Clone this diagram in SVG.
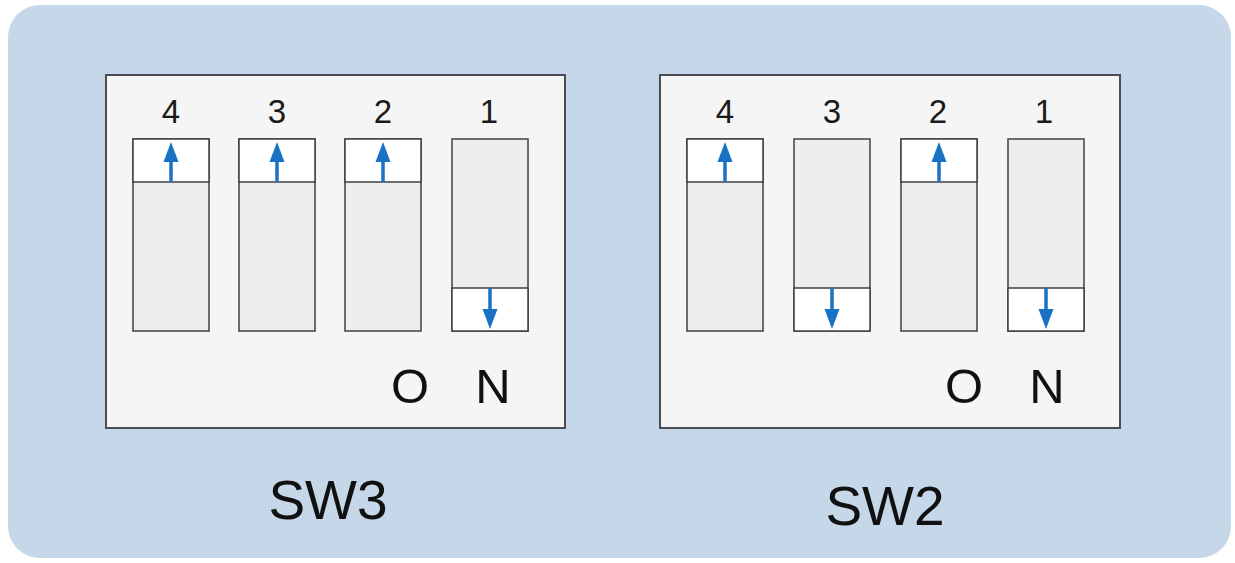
<svg xmlns="http://www.w3.org/2000/svg" width="1235" height="563" viewBox="0 0 1235 563">
<defs>
<style>
.panel{fill:#f5f5f5;stroke:#4a4d52;stroke-width:2}
.sw{fill:#eeeeee;stroke:#404040;stroke-width:1.5}
.knob{fill:#ffffff;stroke:#404040;stroke-width:1.5}
.arr{stroke:#1a72c4;stroke-width:3.5;fill:none}
.head{fill:#1a72c4}
.num{font-family:"Liberation Sans",Arial,sans-serif;font-size:33px;fill:#1a1a1a;text-anchor:middle}
.on{font-family:"Liberation Sans",Arial,sans-serif;font-size:49px;fill:#111;text-anchor:middle}
.title{font-family:"Liberation Sans",Arial,sans-serif;font-size:55px;fill:#111;text-anchor:middle}
</style>
<g id="up">
<rect class="knob" x="0" y="0" width="76" height="43"/>
<line class="arr" x1="38" y1="43" x2="38" y2="20"/>
<polygon class="head" points="38,3 45.5,23 30.5,23"/>
</g>
<g id="down">
<rect class="knob" x="0" y="0" width="76" height="43"/>
<line class="arr" x1="38" y1="0" x2="38" y2="24"/>
<polygon class="head" points="38,41 45.5,21 30.5,21"/>
</g>
</defs>
<rect x="0" y="0" width="1235" height="563" fill="#ffffff"/>
<rect id="background" x="8" y="5" width="1223" height="553" rx="32" ry="32" fill="#c5d7e8"/>

<g id="SW3">
<rect class="panel" x="106" y="75" width="459" height="353"/>
<text class="num" x="171" y="123">4</text>
<text class="num" x="277" y="123">3</text>
<text class="num" x="383" y="123">2</text>
<text class="num" x="489" y="123">1</text>
<g id="sw3-4"><rect class="sw" x="133" y="139" width="76" height="192"/><use href="#up" x="133" y="139"/></g>
<g id="sw3-3"><rect class="sw" x="239" y="139" width="76" height="192"/><use href="#up" x="239" y="139"/></g>
<g id="sw3-2"><rect class="sw" x="345" y="139" width="76" height="192"/><use href="#up" x="345" y="139"/></g>
<g id="sw3-1"><rect class="sw" x="452" y="139" width="76" height="192"/><use href="#down" x="452" y="288"/></g>
<text class="on" x="410" y="403">O</text>
<text class="on" x="493" y="403">N</text>
<text class="title" x="328" y="519">SW3</text>
</g>

<g id="SW2">
<rect class="panel" x="660" y="75" width="460" height="353"/>
<text class="num" x="725" y="123">4</text>
<text class="num" x="832" y="123">3</text>
<text class="num" x="938" y="123">2</text>
<text class="num" x="1044" y="123">1</text>
<g id="sw2-4"><rect class="sw" x="687" y="139" width="76" height="192"/><use href="#up" x="687" y="139"/></g>
<g id="sw2-3"><rect class="sw" x="794" y="139" width="76" height="192"/><use href="#down" x="794" y="288"/></g>
<g id="sw2-2"><rect class="sw" x="901" y="139" width="76" height="192"/><use href="#up" x="901" y="139"/></g>
<g id="sw2-1"><rect class="sw" x="1008" y="139" width="76" height="192"/><use href="#down" x="1008" y="288"/></g>
<text class="on" x="964" y="403">O</text>
<text class="on" x="1047" y="403">N</text>
<text class="title" x="885" y="525">SW2</text>
</g>
<g id="connectors"/>
</svg>
